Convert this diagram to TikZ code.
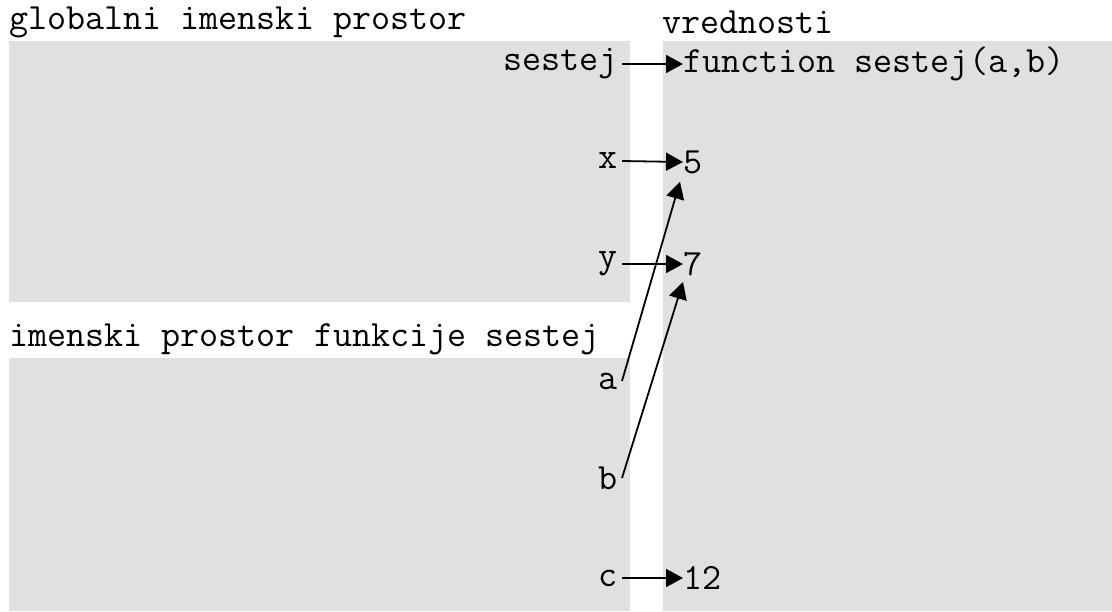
\documentclass[tikz,border=0pt]{standalone}
\usetikzlibrary{arrows.meta}
\definecolor{boxgray}{RGB}{224,224,224}
\newcommand{\monofont}{\fontsize{37}{37}\ttfamily}
\tikzset{
  panelfill/.style={fill=boxgray, draw=none},
  ttlnode/.style={anchor=west, inner sep=0pt, font=\monofont},
  lblnode/.style={anchor=east, inner ysep=0pt, inner xsep=4pt, font=\monofont},
  valnode/.style={anchor=west, inner sep=0pt, font=\monofont},
  refarrow/.style={draw=black, line width=1.8pt, -{Triangle[length=17pt,width=18pt]}}
}
\begin{document}
\begin{tikzpicture}[x=1pt,y=-1pt]
\useasboundingbox (0,0) rectangle (1112,611);
% panels
\fill[panelfill] (9,41) rectangle (630,302);
\fill[panelfill] (9,358) rectangle (630,611);
\fill[panelfill] (663,41) rectangle (1112,611);
% titles
\node[ttlnode] (tglob) at (9,22) {globalni imenski prostor};
\node[ttlnode] (tfun) at (9,339) {imenski prostor funkcije sestej};
\node[ttlnode] (tval) at (662,22) {vrednosti};
% names
\node[lblnode] (nsestej) at (622,64) {sestej};
\node[lblnode] (nx) at (622,161) {x};
\node[lblnode] (ny) at (622,264) {y};
\node[lblnode] (na) at (622,381) {a};
\node[lblnode] (nb) at (622,478) {b};
\node[lblnode] (nc) at (622,578) {c};
% values
\node[valnode] (vfun) at (683,64) {function sestej(a,b)};
\node[valnode] (v5) at (683,162) {5};
\node[valnode] (v7) at (683,264) {7};
\node[valnode] (v12) at (683,578) {12};
% connectors
\draw[refarrow] (nsestej.east) -- (vfun.west);
\draw[refarrow] (nx.east) -- (v5.west);
\draw[refarrow] (ny.east) -- (v7.west);
\draw[refarrow] (nc.east) -- (v12.west);
\draw[refarrow] (na.east) -- ([xshift=-3pt,yshift=-8pt]v5.south west);
\draw[refarrow] (nb.east) -- ([xshift=0pt,yshift=-6pt]v7.south west);
\end{tikzpicture}
\end{document}
